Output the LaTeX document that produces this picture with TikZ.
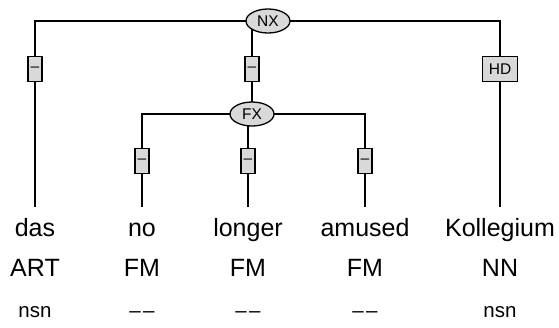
\documentclass[tikz,border=0pt]{standalone}
\usepackage{fontspec}
\setmainfont{Liberation Sans}
\usetikzlibrary{shapes.geometric,backgrounds}
\definecolor{TreeFill}{HTML}{D9D9D9}
\newcommand{\nomorph}{\textendash\kern2.5pt\textendash}
\tikzset{
  catnode/.style={ellipse,draw,fill=TreeFill,line width=1.3pt,minimum width=44pt,minimum height=24pt,inner sep=0pt,font=\fontsize{15.5}{15.5}\selectfont},
  edgebox/.style={rectangle,draw,fill=TreeFill,line width=1.4pt,minimum width=14pt,minimum height=25pt,inner sep=0pt,font=\fontsize{15.5}{15.5}\selectfont},
  headbox/.style={edgebox,minimum width=35pt},
  wordlab/.style={anchor=base,inner sep=0pt,font=\fontsize{25}{25}\selectfont},
  morphlab/.style={anchor=base,inner sep=0pt,font=\fontsize{20.5}{20.5}\selectfont},
  treeline/.style={line width=1.3pt}
}

\begin{document}
\begin{tikzpicture}[x=1pt,y=-1pt]
    \useasboundingbox (0,0) rectangle (559,327);
    % category nodes
    \node[catnode] (nx) at (268,21) {NX};
    \node[catnode] (fx) at (252,114) {FX};
    % edge labels
    \node[edgebox] (bdas) at (35,69) {\textendash};
    \node[edgebox] (bfx) at (252,69) {\textendash};
    \node[headbox] (bkol) at (500,69) {HD};
    \node[edgebox] (bno) at (142,161) {\textendash};
    \node[edgebox] (blonger) at (248,161) {\textendash};
    \node[edgebox] (bamused) at (365,161) {\textendash};
    % words, tags, morphology
    \node[wordlab] (das) at (35,236) {das};
    \node[wordlab] (no) at (142,236) {no};
    \node[wordlab] (longer) at (248,236) {longer};
    \node[wordlab] (amused) at (365,236) {amused};
    \node[wordlab] (kol) at (500,236) {Kollegium};
    \node[wordlab] (tdas) at (35,276) {ART};
    \node[wordlab] (tno) at (142,276) {FM};
    \node[wordlab] (tlonger) at (248,276) {FM};
    \node[wordlab] (tamused) at (365,276) {FM};
    \node[wordlab] (tkol) at (500,276) {NN};
    \node[morphlab] (mdas) at (35,317) {nsn};
    \node[morphlab] (mno) at (142,317) {\nomorph};
    \node[morphlab] (mlonger) at (248,317) {\nomorph};
    \node[morphlab] (mamused) at (365,317) {\nomorph};
    \node[morphlab] (mkol) at (500,317) {nsn};
    % tree edges
    \begin{scope}[on background layer]
      \draw[treeline] (nx.center) -| (bdas.center) -- ([yshift=29pt]das.base);
      \draw[treeline] (nx.center) -| (bkol.center) -- ([yshift=29pt]kol.base);
      \draw[treeline] (nx.center -| bfx) -- (bfx.center) -- (fx.center);
      \draw[treeline] (fx.center) -| (bno.center) -- ([yshift=29pt]no.base);
      \draw[treeline] (fx.center -| blonger) -- (blonger.center) -- ([yshift=29pt]longer.base);
      \draw[treeline] (fx.center) -| (bamused.center) -- ([yshift=29pt]amused.base);
    \end{scope}
  \end{tikzpicture}
\end{document}
